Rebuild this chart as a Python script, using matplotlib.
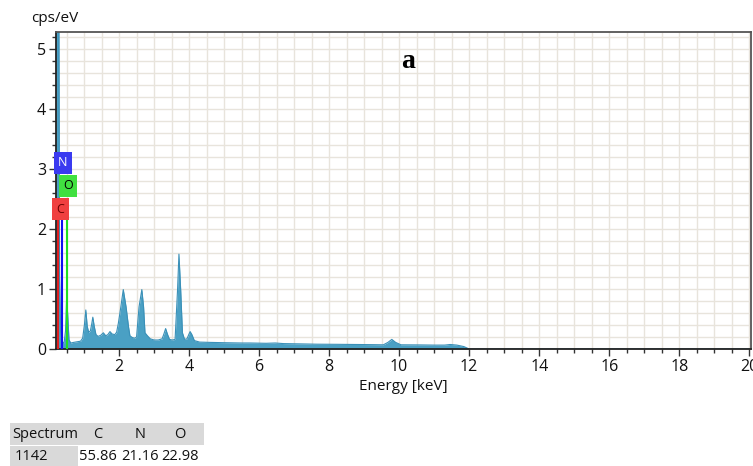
import matplotlib
matplotlib.use("Agg")
import matplotlib.pyplot as plt
from matplotlib.ticker import MultipleLocator
from matplotlib.patches import Rectangle

# ---- data ----
energy = [0.19, 0.24, 0.28, 0.30, 0.33, 0.38, 0.43, 0.47, 0.50, 0.53, 0.57, 0.62, 0.70,
          0.80, 0.90, 0.96, 1.01, 1.05, 1.09, 1.13, 1.18, 1.22, 1.25, 1.29, 1.34,
          1.40, 1.48, 1.55, 1.62, 1.68, 1.74, 1.80, 1.88, 1.93, 1.98, 2.05, 2.12,
          2.20, 2.27, 2.31, 2.38, 2.45, 2.50, 2.57, 2.65, 2.70, 2.74, 2.81, 2.89,
          3.00, 3.12, 3.23, 3.28, 3.33, 3.38, 3.44, 3.52, 3.60, 3.67, 3.71, 3.76,
          3.81, 3.87, 3.94, 3.99, 4.03, 4.08, 4.15, 4.30, 4.6, 5.0, 5.5, 5.74,
          6.2, 6.46, 6.7, 7.2, 7.65, 8.2, 8.8, 9.3, 9.55, 9.68, 9.79, 9.90, 10.05,
          10.6, 11.0, 11.3, 11.46, 11.65, 11.85, 12.0, 12.2, 20.0]
counts = [6.00, 6.00, 5.80, 1.20, 0.30, 0.12, 0.10, 0.30, 0.82, 0.60, 0.15, 0.10, 0.11,
          0.12, 0.13, 0.18, 0.40, 0.65, 0.38, 0.28, 0.30, 0.42, 0.53, 0.38, 0.24,
          0.21, 0.23, 0.27, 0.22, 0.24, 0.29, 0.25, 0.24, 0.28, 0.43, 0.70, 0.99,
          0.70, 0.37, 0.22, 0.19, 0.18, 0.20, 0.70, 0.99, 0.70, 0.27, 0.22, 0.17,
          0.15, 0.15, 0.17, 0.25, 0.34, 0.25, 0.16, 0.15, 0.16, 0.98, 1.58, 0.98,
          0.27, 0.16, 0.17, 0.24, 0.29, 0.24, 0.14, 0.115, 0.11, 0.105, 0.10, 0.10,
          0.095, 0.10, 0.09, 0.085, 0.08, 0.078, 0.075, 0.072, 0.07, 0.11, 0.16, 0.11,
          0.07, 0.068, 0.065, 0.065, 0.075, 0.065, 0.04, 0.0, 0.0, 0.0]

elements = ["C", "N", "O"]
line_energy = [0.25, 0.375, 0.50]
line_top = [2.14, 2.14, 2.14]
label_x = [0.33, 0.39, 0.54]
label_y = [2.33, 3.10, 2.72]
elem_face = ["#f04040", "#3a3af0", "#40e040"]
elem_line = ["#e02020", "#1010f0", "#20e020"]
elem_text = ["#6a0000", "white", "black"]

table_header = ["Spectrum", "C", "N", "O"]
table_row = ["1142", "55.86", "21.16", "22.98"]

W, H = 753, 466
fig = plt.figure(figsize=(W / 100, H / 100), dpi=100)
fontfam = ["Open Sans", "DejaVu Sans"]

x0 = 55.7 / W
x1 = 751 / W
y0 = 1 - 349 / H
y1 = 1 - 32 / H
ax = fig.add_axes([x0, y0, x1 - x0, y1 - y0])
ax.set_xlim(0.19, 20.05)
ax.set_ylim(0, 5.28)

ax.fill_between(energy, counts, 0, color="#4aa0c4", lw=0)
ax.plot(energy, counts, color="#3a90b8", lw=0.8)

for e, top, lx, ly, el, fc, lc, tc in zip(line_energy, line_top, label_x, label_y,
                                          elements, elem_face, elem_line, elem_text):
    ax.plot([e, e], [0, top], color=lc, lw=1.5, zorder=4)
    ax.text(lx, ly, el, ha="center", va="center", fontsize=9, color=tc,
            family=fontfam, zorder=5,
            bbox=dict(boxstyle="square,pad=0.35", fc=fc, ec="none"))

ax.xaxis.set_major_locator(MultipleLocator(2))
ax.xaxis.set_minor_locator(MultipleLocator(0.5))
ax.yaxis.set_major_locator(MultipleLocator(1))
ax.yaxis.set_minor_locator(MultipleLocator(0.2))
ax.grid(which="both", color="#e8e4dc", lw=1.0, zorder=0)
ax.set_axisbelow(True)
ax.tick_params(which="major", direction="out", length=5, width=1, color="#333333",
               labelsize=11.5, pad=2)
ax.tick_params(which="minor", direction="out", length=3, width=1, color="#333333")
for lab in ax.get_xticklabels() + ax.get_yticklabels():
    lab.set_family(fontfam)
    lab.set_color("#111111")
for s in ["left", "bottom"]:
    ax.spines[s].set_color("#222222")
    ax.spines[s].set_linewidth(1.3)
for s in ["top", "right"]:
    ax.spines[s].set_color("#555555")
    ax.spines[s].set_linewidth(1.3)

ax.set_xlabel("Energy [keV]", fontsize=11, family=fontfam, color="#111111", labelpad=3)
fig.text(31 / W, 1 - 18 / H, "cps/eV", fontsize=11, family=fontfam, color="#111111",
         ha="left", va="center")
fig.text(408 / W, 1 - 61 / H, "a", fontsize=20, fontweight="bold",
         family=["Liberation Serif", "DejaVu Serif"], ha="center", va="center")

# table
fig.patches.append(Rectangle((10 / W, 1 - 445 / H), 194 / W, 22 / H,
                             transform=fig.transFigure, fc="#d9d9d9", ec="none"))
fig.patches.append(Rectangle((10 / W, 0), 68 / W, 1 - 446 / H,
                             transform=fig.transFigure, fc="#d9d9d9", ec="none"))
hx = [12, 98, 140, 180]
for xx, t in zip(hx, table_header):
    fig.text(xx / W, 1 - 435 / H, t, fontsize=10.5, family=fontfam,
             ha="left" if t == "Spectrum" else "center", va="center", color="#111111")
rx = [15, 98, 140, 180]
for xx, t in zip(rx, table_row):
    fig.text(xx / W, 1 - 457 / H, t, fontsize=10.5, family=fontfam,
             ha="left" if t == "1142" else "center", va="center", color="#111111")

fig.savefig("out.png", dpi=100)
